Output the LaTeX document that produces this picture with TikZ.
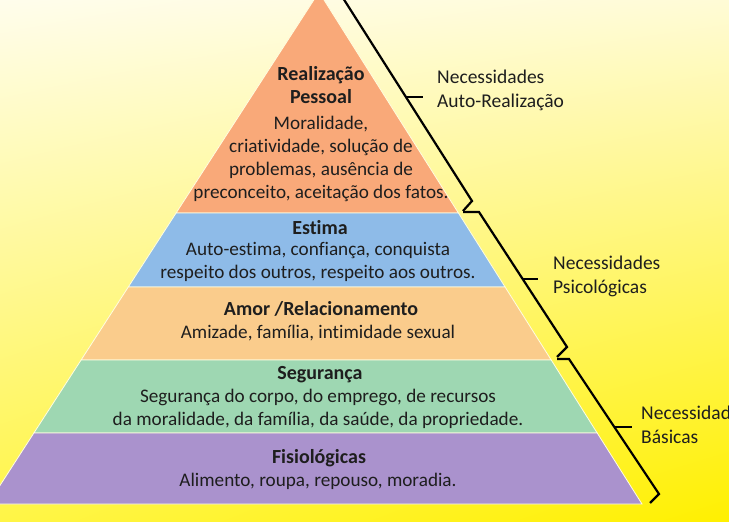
\documentclass[tikz,border=0pt]{standalone}
\usepackage{fontspec}
\setmainfont{Carlito}[Ligatures=NoCommon]
\usetikzlibrary{shadings}
\definecolor{bgA}{RGB}{255,253,236}
\definecolor{bgB}{RGB}{255,251,214}
\definecolor{bgC}{RGB}{255,245,70}
\definecolor{bgD}{RGB}{255,240,0}
\definecolor{cOrange}{RGB}{249,169,121}
\definecolor{cBlue}{RGB}{142,187,232}
\definecolor{cTan}{RGB}{250,204,140}
\definecolor{cGreen}{RGB}{158,215,178}
\definecolor{cPurple}{RGB}{170,146,205}
\definecolor{ink}{RGB}{30,30,30}
\tikzset{
  layer/.style={draw=white!60!yellow!30, line width=0.8pt},
  ttl/.style={font=\fontsize{20}{23.5}\selectfont\bfseries, text=ink, align=center, inner sep=0pt},
  body/.style={font=\fontsize{19.2}{23}\selectfont, text=ink, align=center, inner sep=0pt},
  lbl/.style={font=\fontsize{19.5}{24}\selectfont, text=ink, align=left, anchor=west, inner sep=0pt},
  brace/.style={draw=black, line width=2.2pt, line join=miter},
}
\begin{document}
\begin{tikzpicture}[x=1pt,y=-1pt]
\useasboundingbox (0,0) rectangle (729,522);
\clip (0,0) rectangle (729,522);
\shade[upper left=bgA, upper right=bgB, lower left=bgC, lower right=bgD] (0,0) rectangle (729,522);
% pyramid layers
\coordinate (apex) at (319,-8);
\fill[cOrange, layer] (apex) -- (458.4,213) -- (176.1,213) -- cycle;
\fill[cBlue, layer] (176.1,213) -- (458.4,213) -- (505.1,287) -- (128.3,287) -- cycle;
\fill[cTan, layer] (128.3,287) -- (505.1,287) -- (551.2,360) -- (81.1,360) -- cycle;
\fill[cGreen, layer] (81.1,360) -- (551.2,360) -- (597.2,433) -- (33.9,433) -- cycle;
\fill[cPurple, layer] (33.9,433) -- (597.2,433) -- (642,504) -- (-12,504) -- cycle;
% texts
\node[ttl] (t1) at (321,85) {Realização\\Pessoal};
\node[body] (b1) at (321,159) {Moralidade,\\criatividade, solução de\\problemas, ausência de\\preconceito, aceitação dos fatos.};
\node[ttl] (t2) at (320,228) {Estima};
\node[body] (b2) at (318,262) {Auto-estima, confiança, conquista\\respeito dos outros, respeito aos outros.};
\node[ttl] (t3) at (321,309) {Amor /Relacionamento};
\node[body] (b3) at (318,333) {Amizade, família, intimidade sexual};
\node[ttl] (t4) at (320,375) {Segurança};
\node[body] (b4) at (318,408.5) {Segurança do corpo, do emprego, de recursos\\da moralidade, da família, da saúde, da propriedade.};
\node[ttl] (t5) at (319,458) {Fisiológicas};
\node[body] (b5) at (318,481) {Alimento, roupa, repouso, moradia.};
% braces
\coordinate (a0) at (343,-2);
\coordinate (a1) at (472,201);
\coordinate (a2) at (463,211);
\coordinate (am) at (405.5,97);
\coordinate (amt) at (423,97);
\draw[brace] (a0) -- (a1) -- (a2);
\draw[brace] (am) -- (amt);
\coordinate (b0) at (463,212);
\coordinate (b1c) at (479,212);
\coordinate (b2c) at (567,347);
\coordinate (b3c) at (557,357);
\coordinate (bm) at (523,279);
\coordinate (bmt) at (538,279);
\draw[brace] (b0) -- (b1c) -- (b2c) -- (b3c);
\draw[brace] (bm) -- (bmt);
\coordinate (c0) at (557,359);
\coordinate (c1) at (569,359);
\coordinate (c2) at (659,494);
\coordinate (c3) at (650,503);
\coordinate (cm) at (614,427);
\coordinate (cmt) at (632,427);
\draw[brace] (c0) -- (c1) -- (c2) -- (c3);
\draw[brace] (cm) -- (cmt);
% labels
\node[lbl] (l1) at (437,90) {Necessidades\\Auto-Realização};
\node[lbl] (l2) at (553,276) {Necessidades\\Psicológicas};
\node[lbl] (l3) at (641,425) {Necessidades\\Básicas};
\end{tikzpicture}
\end{document}
